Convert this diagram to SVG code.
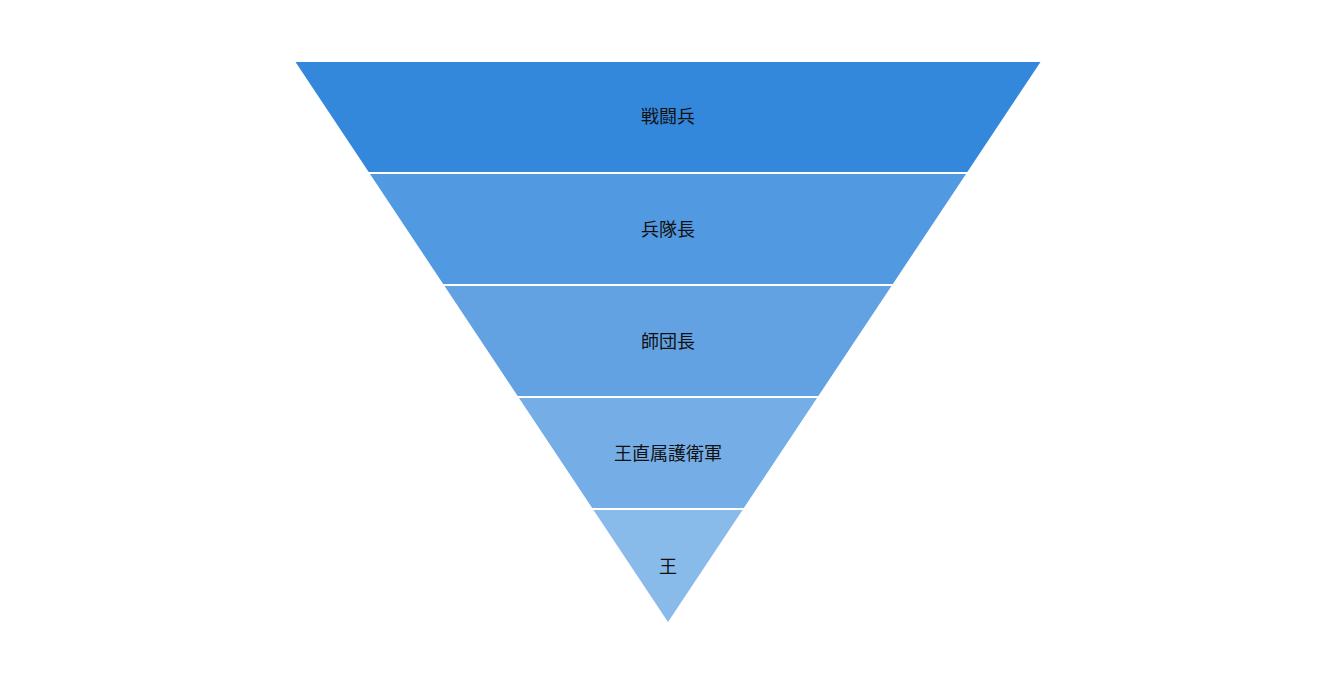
<svg xmlns="http://www.w3.org/2000/svg" width="1337" height="700" viewBox="0 0 1337 700">
<style>
.s{stroke:#fff;stroke-width:2}
text{font-family:"Noto Sans CJK JP","Noto Sans CJK SC",sans-serif;font-size:18px;fill:#111;text-anchor:middle;dominant-baseline:central}
</style>
<rect width="1337" height="700" fill="#fff"/>
<g id="n1"><polygon fill="#3488DC" points="295.5,62 1040.5,62 966,174 370,174"/><text x="668" y="115">戦闘兵</text></g>
<g id="n2"><polygon fill="#5199E0" points="370,174 966,174 891.5,286 444.5,286"/><text x="668" y="228">兵隊長</text></g>
<g id="n3"><polygon fill="#62A2E3" points="444.5,286 891.5,286 817,398 519,398"/><text x="668" y="340">師団長</text></g>
<g id="n4"><polygon fill="#75AEE6" points="519,398 817,398 742.5,510 593.5,510"/><text x="668" y="452">王直属護衛軍</text></g>
<g id="n5"><polygon fill="#88BAEA" points="593.5,510 742.5,510 668,622"/><text x="668" y="565">王</text></g>
<g id="connectors">
<line class="s" x1="360" y1="173" x2="980" y2="173"/>
<line class="s" x1="430" y1="285" x2="900" y2="285"/>
<line class="s" x1="510" y1="397" x2="830" y2="397"/>
<line class="s" x1="580" y1="509" x2="750" y2="509"/>
</g>
</svg>
